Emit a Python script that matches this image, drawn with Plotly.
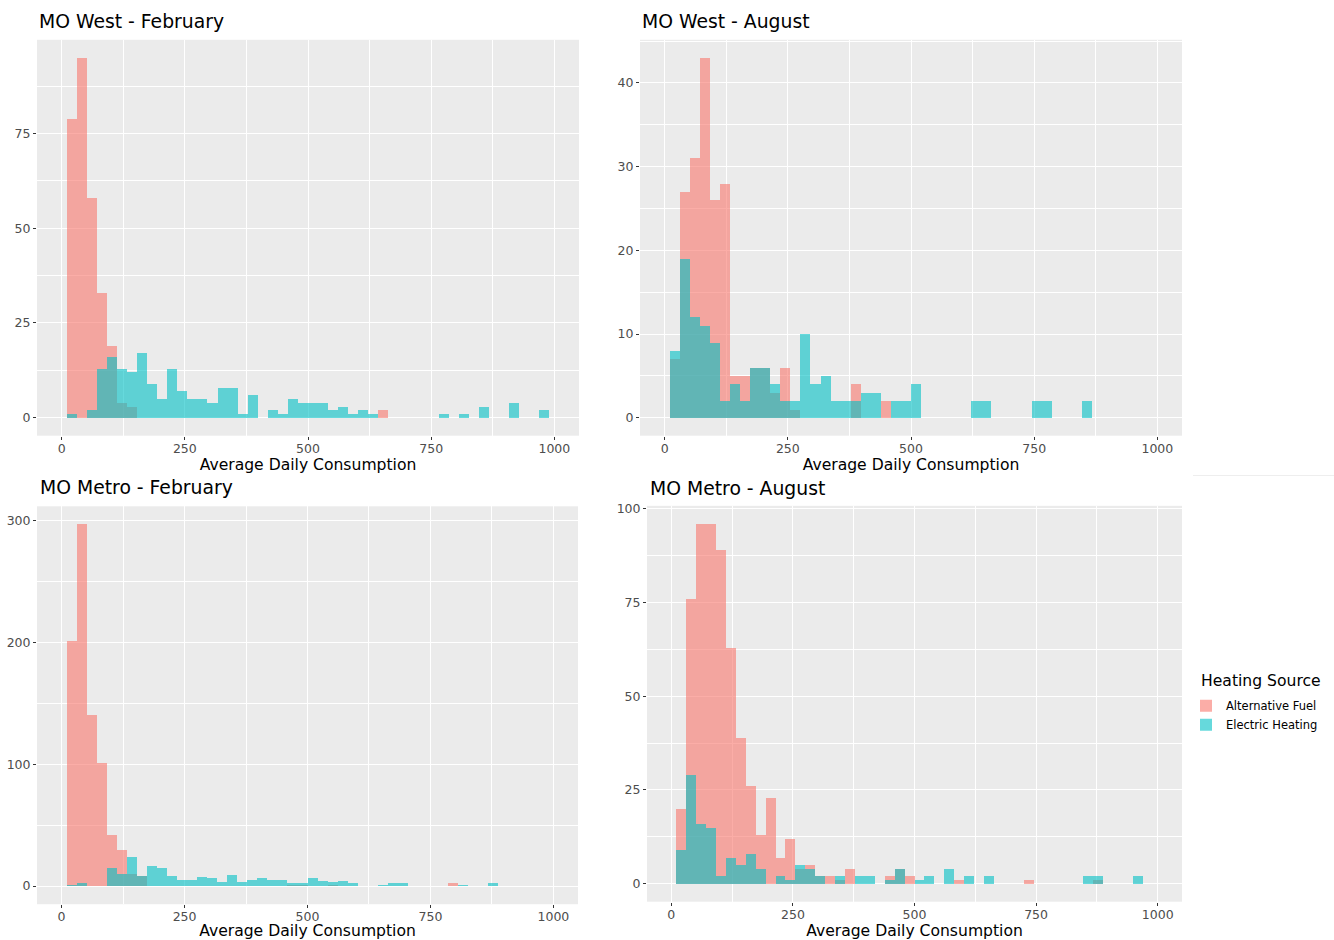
import plotly.graph_objects as go

# ---------------- data ----------------
# ggplot-style bins: bins = 50 over xlim(0, 1000); first and last bins dropped by the limits
BIN_WIDTH = 1000 / 49
BIN_INDEX = list(range(1, 49))
BIN_CENTERS = [k * BIN_WIDTH for k in BIN_INDEX]

SERIES = ["Alternative Fuel", "Electric Heating"]
LEGEND_TITLE = "Heating Source"

west_feb_alt = [79, 95, 58, 33, 19, 4, 3, 0, 0, 0, 0, 0,
                0, 0, 0, 0, 0, 0, 0, 0, 0, 0, 0, 0,
                0, 0, 0, 0, 0, 0, 0, 2, 0, 0, 0, 0,
                0, 0, 0, 0, 0, 0, 0, 0, 0, 0, 0, 0]
west_feb_elec = [1, 0, 2, 13, 16, 13, 12, 17, 9, 5, 13, 7,
                 5, 5, 4, 8, 8, 1, 6, 0, 2, 1, 5, 4,
                 4, 4, 2, 3, 1, 2, 1, 0, 0, 0, 0, 0,
                 0, 1, 0, 1, 0, 3, 0, 0, 4, 0, 0, 2]

west_aug_alt = [7, 27, 31, 43, 26, 28, 5, 5, 6, 6, 3, 6,
                1, 0, 0, 0, 0, 0, 4, 0, 0, 2, 0, 0,
                0, 0, 0, 0, 0, 0, 0, 0, 0, 0, 0, 0,
                0, 0, 0, 0, 0, 0, 0, 0, 0, 0, 0, 0]
west_aug_elec = [8, 19, 12, 11, 9, 2, 4, 2, 6, 6, 4, 2,
                 2, 10, 4, 5, 2, 2, 2, 3, 3, 0, 2, 2,
                 4, 0, 0, 0, 0, 0, 2, 2, 0, 0, 0, 0,
                 2, 2, 0, 0, 0, 2, 0, 0, 0, 0, 0, 0]

metro_feb_alt = [201, 297, 140, 101, 42, 29, 10, 8, 0, 0, 0, 0,
                 0, 0, 0, 0, 0, 0, 0, 0, 0, 0, 1, 1,
                 0, 0, 1, 0, 0, 0, 0, 0, 0, 0, 0, 0,
                 0, 0, 2, 0, 0, 0, 0, 0, 0, 0, 0, 0]
metro_feb_elec = [1, 2, 0, 0, 15, 10, 24, 8, 16, 15, 8, 5,
                  5, 7, 6, 3, 9, 3, 5, 6, 5, 5, 2, 2,
                  6, 4, 3, 4, 2, 0, 0, 1, 2, 2, 0, 0,
                  0, 0, 0, 1, 0, 0, 2, 0, 0, 0, 0, 0]

metro_aug_alt = [20, 76, 96, 96, 89, 63, 39, 26, 13, 23, 7, 12,
                 4, 5, 2, 2, 1, 4, 0, 0, 0, 2, 4, 2,
                 0, 0, 0, 0, 1, 0, 0, 0, 0, 0, 0, 1,
                 0, 0, 0, 0, 0, 0, 1, 0, 0, 0, 0, 0]
metro_aug_elec = [9, 29, 16, 15, 2, 7, 5, 8, 4, 0, 2, 1,
                  5, 4, 2, 0, 2, 0, 2, 2, 0, 1, 4, 0,
                  1, 2, 0, 4, 0, 2, 0, 2, 0, 0, 0, 0,
                  0, 0, 0, 0, 0, 2, 2, 0, 0, 0, 2, 0]

PANEL_TITLES = ["MO West - February", "MO West - August",
                "MO Metro - February", "MO Metro - August"]
X_TITLE = "Average Daily Consumption"
X_TICKS = [0, 250, 500, 750, 1000]
Y_TICKS = [[0, 25, 50, 75], [0, 10, 20, 30, 40], [0, 100, 200, 300], [0, 25, 50, 75, 100]]
Y_MINOR = [(12.5, 25), (5, 10), (50, 100), (12.5, 25)]
PANEL_DATA = [(west_feb_alt, west_feb_elec), (west_aug_alt, west_aug_elec),
              (metro_feb_alt, metro_feb_elec), (metro_aug_alt, metro_aug_elec)]

# ---------------- styling / layout ----------------
W, H = 1334, 940
FONT = "DejaVu Sans"
COLORS = ["rgba(248,118,109,0.6)", "rgba(0,191,196,0.6)"]
PANEL_BG = "#EBEBEB"

# panel boxes in pixels: (left, right, top, bottom)
BOXES = [(37, 579, 35, 433), (640, 1182, 35, 433),
         (37, 578, 504, 904), (647, 1182, 503.5, 901.5)]
TITLE_POS = [(37, 17), (640, 17), (38, 485), (648, 486)]


def px_x(v):
    return v / W


def px_y(v):
    return 1 - v / H


fig = go.Figure()

for i, (alt, elec) in enumerate(PANEL_DATA):
    n = "" if i == 0 else str(i + 1)
    for s, (name, vals) in enumerate(zip(SERIES, (alt, elec))):
        fig.add_trace(go.Bar(
            x=BIN_CENTERS, y=vals, width=BIN_WIDTH,
            name=name, legendgroup=name, showlegend=(i == 3),
            marker=dict(color=COLORS[s], line=dict(width=0)),
            xaxis="x" + n, yaxis="y" + n,
        ))

layout = dict(
    width=W, height=H, autosize=False,
    margin=dict(l=0, r=0, t=0, b=0),
    paper_bgcolor="white", plot_bgcolor=PANEL_BG,
    barmode="overlay", bargap=0,
    font=dict(family=FONT, color="#4D4D4D"),
    showlegend=True,
    legend=dict(
        font=dict(size=11.5, color="black", family=FONT),
        x=px_x(1186), y=px_y(690), xanchor="left", yanchor="top",
        bgcolor="rgba(255,255,255,0)", tracegroupgap=0, itemwidth=30,
    ),
)

annotations = []
for i in range(4):
    n = "" if i == 0 else str(i + 1)
    l, r, t, b = BOXES[i]
    ymax = max(max(PANEL_DATA[i][0]), max(PANEL_DATA[i][1]))
    layout["xaxis" + n] = dict(
        domain=[px_x(l), px_x(r)], anchor="y" + n,
        range=[-50, 1050], tickvals=X_TICKS,
        ticks="outside", ticklen=3, tickwidth=1, tickcolor="#333333",
        ticklabelstandoff=-2,
        tickfont=dict(size=12.5, color="#4D4D4D", family=FONT),
        showgrid=True, gridcolor="white", gridwidth=1.4,
        minor=dict(tick0=125, dtick=250, showgrid=True, gridcolor="white", gridwidth=0.7, ticks=""),
        zeroline=False, showline=False, fixedrange=True,
        title=dict(text=X_TITLE, font=dict(size=15.6, color="black", family=FONT), standoff=3),
    )
    m0, md = Y_MINOR[i]
    layout["yaxis" + n] = dict(
        domain=[px_y(b), px_y(t)], anchor="x" + n,
        range=[-0.05 * ymax, 1.05 * ymax], tickvals=Y_TICKS[i],
        ticks="outside", ticklen=3, tickwidth=1, tickcolor="#333333",
        tickfont=dict(size=12.5, color="#4D4D4D", family=FONT),
        showgrid=True, gridcolor="white", gridwidth=1.4,
        minor=dict(tick0=m0, dtick=md, showgrid=True, gridcolor="white", gridwidth=0.7, ticks=""),
        zeroline=False, showline=False, fixedrange=True,
    )
    tx, ty = TITLE_POS[i]
    annotations.append(dict(
        text=PANEL_TITLES[i], xref="paper", yref="paper",
        x=px_x(tx), y=px_y(ty), xanchor="left", yanchor="middle",
        showarrow=False, font=dict(size=18.8, color="black", family=FONT),
    ))

# legend title (drawn as text so that it lines up with the keys like ggplot's)
annotations.append(dict(
    text=LEGEND_TITLE, xref="paper", yref="paper",
    x=px_x(1199), y=px_y(680), xanchor="left", yanchor="middle",
    showarrow=False, font=dict(size=15.6, color="black", family=FONT),
))

layout["annotations"] = annotations
layout["shapes"] = [dict(type="line", xref="paper", yref="paper",
                         x0=px_x(1193), x1=1, y0=px_y(473), y1=px_y(473),
                         line=dict(color="#EEEEEE", width=1))]
fig.update_layout(**layout)

# pin the figure to the window origin (no default page margins, no scrollbars)
PAGE_FIX = ("document.documentElement.style.margin='0';document.body.style.margin='0';"
            "document.body.style.padding='0';document.documentElement.style.overflow='hidden';"
            "var gd=document.getElementById('{plot_id}');gd.style.position='absolute';"
            "gd.style.left='0px';gd.style.top='0px';")
fig.write_html("out.html", post_script=PAGE_FIX, config={"displayModeBar": False})
